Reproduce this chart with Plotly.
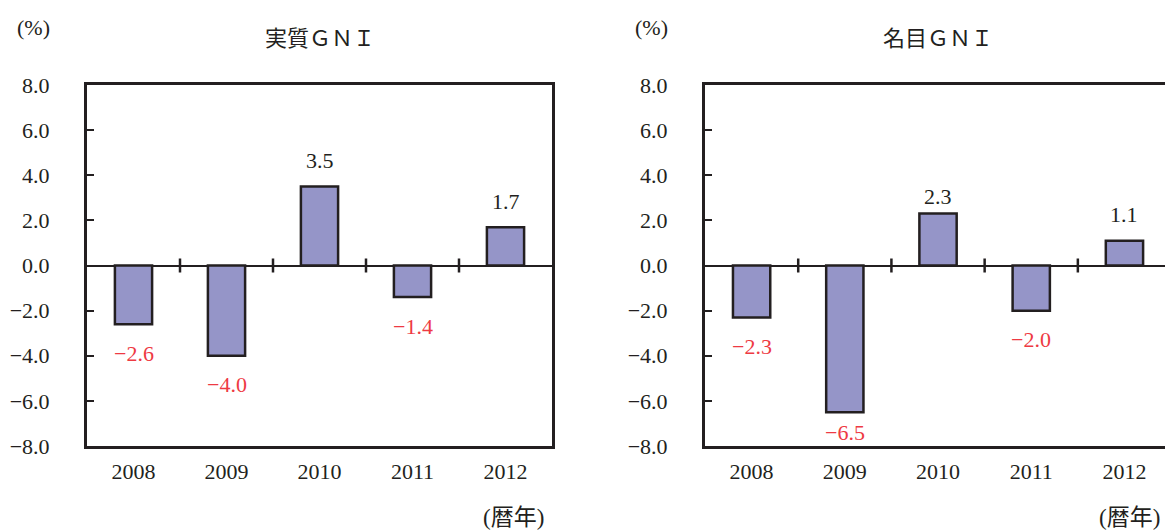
import plotly.graph_objects as go

# Year-on-year growth of GNI (%), calendar years
years = ["2008", "2009", "2010", "2011", "2012"]
real_gni = [-2.6, -4.0, 3.5, -1.4, 1.7]
nominal_gni = [-2.3, -6.5, 2.3, -2.0, 1.1]

panel_titles = ["実質ＧＮＩ", "名目ＧＮＩ"]
y_ticks = [-8, -6, -4, -2, 0, 2, 4, 6, 8]

W, H = 1165, 531
BAR_FILL = "#9595C8"
INK = "#231F20"
NEG_RED = "#EE3A43"
SERIF = "Liberation Serif, Noto Sans CJK JP, serif"

# label offsets (px) for value labels; a few are pulled in toward the bar
label_gap = {("x2", 2): 17, ("x2", 1): 20}

fig = go.Figure()

panels = [
    dict(xa="x", ya="y", values=real_gni, dom=[87 / W, 552 / W], rng=[-0.5, 4.5], mirror_y=True),
    dict(xa="x2", ya="y2", values=nominal_gni, dom=[705 / W, 1.0], rng=[-0.5, 4.435], mirror_y=False),
]

y_dom = [1 - 446 / H, 1 - 85 / H]

for p_i, p in enumerate(panels):
    fig.add_trace(go.Bar(
        x=list(range(len(years))), y=p["values"],
        xaxis=p["xa"], yaxis=p["ya"],
        width=0.4,
        marker=dict(color=BAR_FILL, line=dict(color=INK, width=2.5)),
        hoverinfo="skip", showlegend=False,
    ))

    suffix = "" if p_i == 0 else "2"
    fig.update_layout(**{
        f"xaxis{suffix}": dict(
            domain=p["dom"], range=p["rng"], anchor=p["ya"],
            tickmode="array", tickvals=list(range(len(years))), ticktext=years,
            ticks="", showgrid=False, zeroline=False,
            showline=True, mirror=True, linecolor=INK, linewidth=3,
            tickfont=dict(family=SERIF, size=22, color=INK),
            ticklabelstandoff=4, automargin=False,
        ),
        f"yaxis{suffix}": dict(
            domain=y_dom, range=[-8, 8], anchor=p["xa"],
            tickmode="array", tickvals=y_ticks, tickformat=".1f",
            ticks="inside", ticklen=7, tickwidth=2, tickcolor=INK,
            showgrid=False,
            zeroline=True, zerolinecolor=INK, zerolinewidth=2,
            showline=True, mirror=p["mirror_y"], linecolor=INK, linewidth=3,
            tickfont=dict(family=SERIF, size=22, color=INK),
            ticklabelstandoff=30, automargin=False,
        ),
    })

    # category-boundary ticks crossing the zero line
    for k in range(len(years) - 1):
        fig.add_shape(
            type="line", xref=p["xa"], yref=p["ya"],
            x0=k + 0.5, x1=k + 0.5, ysizemode="pixel", yanchor=0, y0=-7, y1=7,
            line=dict(color=INK, width=2.5),
        )

    # value labels
    for i, v in enumerate(p["values"]):
        gap = label_gap.get((p["xa"], i), 26 if v >= 0 else 29)
        txt = f"{abs(v):.1f}" if v >= 0 else f"−{abs(v):.1f}"
        fig.add_annotation(
            xref=p["xa"], yref=p["ya"], x=i, y=v,
            text=txt, showarrow=False, yanchor="middle",
            yshift=gap if v >= 0 else -gap,
            font=dict(family=SERIF, size=22, color=INK if v >= 0 else NEG_RED),
        )

    # panel title
    x_mid = (p["dom"][0] + (552 / W if p_i == 0 else 1170 / W)) / 2
    fig.add_annotation(
        xref="paper", yref="paper", x=x_mid, y=1 - 39 / H,
        text=panel_titles[p_i], showarrow=False, xanchor="center", yanchor="middle",
        font=dict(family=SERIF, size=22, color=INK),
    )

# unit labels
for x_px in (15, 633):
    fig.add_annotation(
        xref="paper", yref="paper", x=x_px / W, y=1 - 28 / H,
        text="(%)", showarrow=False, xanchor="left", yanchor="middle",
        font=dict(family=SERIF, size=22, color=INK),
    )
for x_px in (546, 1162):
    fig.add_annotation(
        xref="paper", yref="paper", x=x_px / W, y=1 - 517 / H,
        text="(暦年)", showarrow=False, xanchor="right", yanchor="middle",
        font=dict(family=SERIF, size=23, color=INK),
    )

fig.update_layout(
    width=W, height=H,
    margin=dict(l=0, r=0, t=0, b=0, autoexpand=False),
    paper_bgcolor="white", plot_bgcolor="white",
    bargap=0.6,
)

fig.write_html("out.html")
